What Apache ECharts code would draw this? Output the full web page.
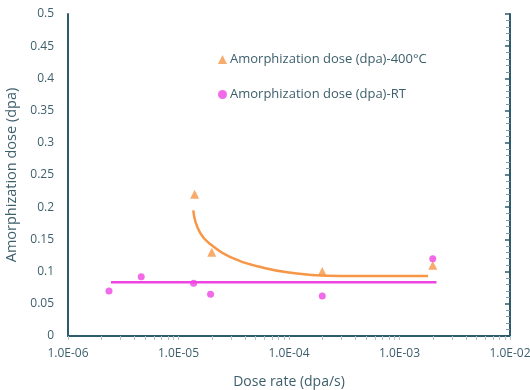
<!DOCTYPE html>
<html>
<head>
<meta charset="utf-8">
<script src="https://cdn.jsdelivr.net/npm/echarts@6/dist/echarts.min.js"></script>
<style>
  html, body { margin: 0; padding: 0; background: #fff; }
  #chart { width: 530px; height: 390px; }
</style>
</head>
<body>
<div id="chart"></div>
<script>
// Amorphization dose vs. dose rate
const seriesNames = ['Amorphization dose (dpa)-400°C', 'Amorphization dose (dpa)-RT'];

// measured points [dose rate (dpa/s), dose (dpa)]
const dose400C = [[1.4e-5, 0.22], [2.0e-5, 0.13], [2.0e-4, 0.10], [2.0e-3, 0.11]];
const doseRT = [[2.35e-6, 0.07], [4.6e-6, 0.092], [1.37e-5, 0.082], [1.95e-5, 0.065], [2.0e-4, 0.062], [2.0e-3, 0.12]];

// trend lines
const trend400C = [[1.36e-5, 0.195], [1.57e-5, 0.160], [2.07e-5, 0.139], [2.92e-5, 0.123],
                   [5.85e-5, 0.106], [1.17e-4, 0.097], [2.19e-4, 0.0935], [4.0e-4, 0.093], [1.81e-3, 0.093]];
const trendRT = [[2.45e-6, 0.0834], [2.16e-3, 0.0834]];

// axis ticks
const xMin = 1e-6, xMax = 1e-2;
const yTicks = [0, 0.05, 0.1, 0.15, 0.2, 0.25, 0.3, 0.35, 0.4, 0.45, 0.5];
const xDecades = [1e-6, 1e-5, 1e-4, 1e-3, 1e-2];
const xMinorTicks = [];
for (let d = 0; d < xDecades.length - 1; d++) {
  for (let k = 1; k <= 9; k++) xMinorTicks.push(+(k * xDecades[d]).toPrecision(3));
}
xMinorTicks.push(1e-2);

const ORANGE = '#F79646';
const PINK = '#EE45E2';
const DARK = '#2C5B6B';
const TEXT = '#3D5F6C';
const FONT = '"Open Sans", "Noto Sans", sans-serif';

function sciLabel(v) {
  const e = Math.round(Math.log10(v));
  return '1.0E' + (e < 0 ? '-' : '+') + String(Math.abs(e)).padStart(2, '0');
}

const chart = echarts.init(document.getElementById('chart'), null, { renderer: 'canvas' });
chart.setOption({
  animation: false,
  backgroundColor: '#fff',
  textStyle: { fontFamily: FONT },
  grid: { left: 68, right: 20, top: 14, bottom: 54, containLabel: false, outerBoundsMode: 'none' },
  legend: {
    orient: 'vertical',
    left: 213,
    top: 48,
    itemGap: 22,
    itemWidth: 9,
    itemHeight: 9,
    data: [
      { name: seriesNames[0], icon: 'triangle' },
      { name: seriesNames[1], icon: 'circle' }
    ],
    textStyle: { color: TEXT, fontSize: 13, fontFamily: FONT, padding: [0, 0, 0, -2] }
  },
  xAxis: [
    {
      type: 'log', logBase: 10, min: xMin, max: xMax,
      name: 'Dose rate (dpa/s)', nameLocation: 'middle', nameGap: 39,
      nameTextStyle: { color: TEXT, fontSize: 14, fontFamily: FONT },
      axisLine: { lineStyle: { color: '#7D97A0', width: 1.5 } },
      axisTick: { show: true, length: 4, customValues: xMinorTicks, lineStyle: { color: '#B5C0C4', width: 1 } },
      axisLabel: { color: TEXT, fontSize: 12, margin: 12, customValues: xDecades, formatter: sciLabel },
      splitLine: { show: false }
    },
    {
      type: 'log', logBase: 10, min: xMin, max: xMax, position: 'top',
      axisLine: { lineStyle: { color: DARK, width: 2 } },
      axisTick: { show: false }, axisLabel: { show: false }, splitLine: { show: false }
    }
  ],
  yAxis: [
    {
      type: 'value', min: yTicks[0], max: yTicks[yTicks.length - 1], interval: 0.05,
      name: 'Amorphization dose (dpa)', nameLocation: 'middle', nameGap: 35,
      nameTextStyle: { color: TEXT, fontSize: 14.5, fontFamily: FONT },
      axisLine: { show: true, lineStyle: { color: DARK, width: 2 } },
      axisTick: { show: false },
      axisLabel: { color: TEXT, fontSize: 12, margin: 14, formatter: v => String(+v.toFixed(2)) },
      splitLine: { show: false }
    },
    {
      type: 'value', min: yTicks[0], max: yTicks[yTicks.length - 1], interval: 0.05, position: 'right',
      axisLine: { show: true, onZero: false, lineStyle: { color: DARK, width: 2 } },
      axisTick: { show: true, inside: true, length: 5, lineStyle: { color: DARK, width: 1.5 } },
      minorTick: { show: true, splitNumber: 5, length: 4, lineStyle: { color: '#7F98A2', width: 1 } },
      axisLabel: { show: true, formatter: () => '' }, splitLine: { show: false }
    }
  ],
  series: [
    {
      name: 'trend-400', type: 'line', data: trend400C, smooth: 0.5,
      showSymbol: false, symbol: 'none',
      lineStyle: { color: ORANGE, width: 2.5 }, z: 2, silent: true
    },
    {
      name: 'trend-RT', type: 'line', data: trendRT, yAxisIndex: 1, showSymbol: false, symbol: 'none',
      lineStyle: { color: PINK, width: 2.5 }, z: 2, silent: true
    },
    {
      name: seriesNames[0], type: 'scatter', data: dose400C, symbol: 'triangle', symbolSize: 9,
      itemStyle: { color: ORANGE }, z: 3
    },
    {
      name: seriesNames[1], type: 'scatter', data: doseRT, symbol: 'circle', symbolSize: 7,
      itemStyle: { color: PINK }, z: 3
    }
  ]
});
</script>
</body>
</html>
